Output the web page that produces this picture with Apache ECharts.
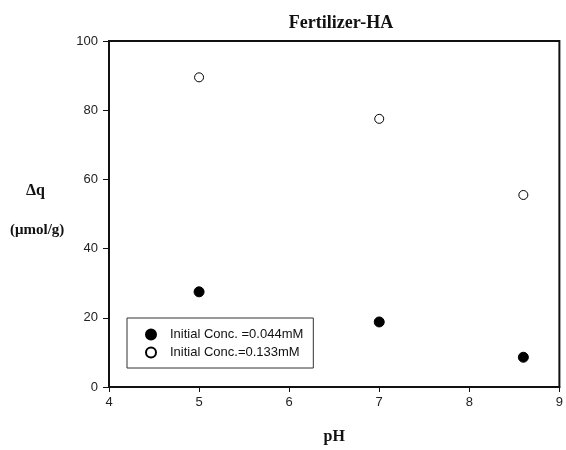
<!DOCTYPE html>
<html><head><meta charset="utf-8">
<script src="https://cdn.jsdelivr.net/npm/echarts@6/dist/echarts.min.js"></script>
<style>html,body{margin:0;padding:0;background:#fff}#c{width:566px;height:450px}</style>
</head><body><div id="c"></div>
<script>
const pH = [5, 7, 8.6];
const lowConc = [27.5, 18.8, 8.6];
const highConc = [89.5, 77.5, 55.5];
const seriesNames = ['Initial Conc. =0.044mM', 'Initial Conc.=0.133mM'];

const chart = echarts.init(document.getElementById('c'));
const serif = 'Liberation Serif';
const sans = 'Liberation Sans';
chart.setOption({
  animation: false,
  backgroundColor: '#fff',
  title: {text: 'Fertilizer-HA', left: 336, top: 9, textAlign: 'center',
    textStyle: {fontFamily: serif, fontWeight: 'bold', fontSize: 18, color: '#111'}},
  grid: {left: 109, right: 3, top: 41, bottom: 57, show: true, borderColor: '#111', borderWidth: 2},
  xAxis: {type: 'value', min: 4, max: 9, interval: 1,
    name: 'pH', nameLocation: 'middle', nameGap: 42,
    nameTextStyle: {fontFamily: serif, fontWeight: 'bold', fontSize: 16, color: '#111'},
    axisLine: {show: true, lineStyle: {color: '#111', width: 2}},
    axisTick: {show: true, inside: false, length: 5, lineStyle: {color: '#111', width: 1}},
    axisLabel: {fontFamily: sans, fontSize: 13, color: '#222', margin: 9},
    splitLine: {show: false}},
  yAxis: {type: 'value', min: 0, max: 100, interval: 20,
    axisLine: {show: true, lineStyle: {color: '#111', width: 2}},
    axisTick: {show: true, inside: false, length: 6, lineStyle: {color: '#111', width: 1}},
    axisLabel: {fontFamily: sans, fontSize: 13, color: '#222', margin: 11},
    splitLine: {show: false}},
  legend: {orient: 'vertical', left: 127, top: 318, width: 185,
    padding: [10, 10, 9, 18], itemGap: 5, itemWidth: 10, itemHeight: 10,
    borderColor: '#333', borderWidth: 1, backgroundColor: '#fff',
    textStyle: {fontFamily: sans, fontSize: 13, color: '#111', padding: [0, 0, 0, 9]},
    data: seriesNames},
  series: [
    {name: seriesNames[0], type: 'scatter', symbol: 'circle', symbolSize: 10,
      itemStyle: {color: '#000', borderColor: '#000', borderWidth: 1, opacity: 1},
      data: pH.map((x, i) => [x, lowConc[i]])},
    {name: seriesNames[1], type: 'scatter', symbol: 'circle', symbolSize: 9,
      itemStyle: {color: '#fff', borderColor: '#000', borderWidth: 1, opacity: 1},
      data: pH.map((x, i) => [x, highConc[i]])}
  ],
  graphic: [
    {type: 'text', left: 26, top: 183, style: {text: 'Δq', font: 'bold 16px "Liberation Serif"', fill: '#111'}},
    {type: 'text', left: 10, top: 223, style: {text: '(μmol/g)', font: 'bold 15px "Liberation Serif"', fill: '#111'}}
  ]
});
</script></body></html>
